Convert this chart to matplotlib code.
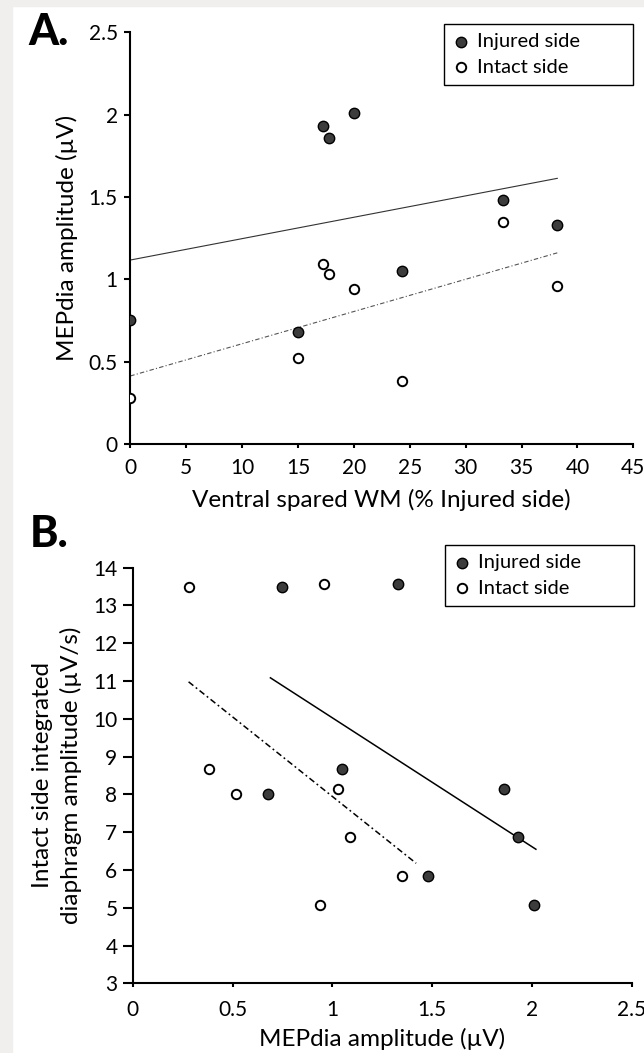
import numpy as np
import matplotlib
matplotlib.use("Agg")
import matplotlib.pyplot as plt
from matplotlib.patches import Rectangle

# Data (one entry per animal)

wm_spared = [0, 15, 17.2, 17.8, 20, 24.3, 33.3, 38.2]
mep_injured = [0.75, 0.68, 1.93, 1.86, 2.01, 1.05, 1.48, 1.33]
mep_intact = [0.28, 0.52, 1.09, 1.03, 0.94, 0.38, 1.35, 0.96]
dia_amp = [13.5, 8.0, 6.87, 8.15, 5.07, 8.67, 5.85, 13.57]

# x-extent of the drawn trend lines
range_a = [0, 38.2]
range_b_injured = [0.69, 2.02]
range_b_intact = [0.28, 1.42]

a_yticks = [0, 0.5, 1, 1.5, 2, 2.5]
a_yticklabels = ["0", "0.5", "1", "1.5", "2", "2.5"]
a_xticks = [0, 5, 10, 15, 20, 25, 30, 35, 40, 45]
b_yticks = list(range(3, 15))
b_xticks = [0, 0.5, 1, 1.5, 2, 2.5]
b_xticklabels = ["0", "0.5", "1", "1.5", "2", "2.5"]

plt.rcParams["font.family"] = ["Lato", "DejaVu Sans"]

W, H = 644, 1053
fig = plt.figure(figsize=(W / 100, H / 100), dpi=100)

# light grey frame on the top and left edge of the scan
fig.patches.append(Rectangle((0, 0), 12 / W, 1, transform=fig.transFigure, color="#f0efee", zorder=0))
fig.patches.append(Rectangle((0, 1 - 6 / H), 1, 6 / H, transform=fig.transFigure, color="#f0efee", zorder=0))


def px_axes(x0, x1, ytop, ybot):
    return fig.add_axes([x0 / W, 1 - ybot / H, (x1 - x0) / W, (ybot - ytop) / H])


def style_axes(ax):
    for s in ["top", "right"]:
        ax.spines[s].set_visible(False)
    for s in ["left", "bottom"]:
        ax.spines[s].set_linewidth(1.5)
    ax.patch.set_alpha(0)


def scatter_pair(ax, x1, y1, x2, y2):
    ax.scatter(x1, y1, s=56, facecolor="#3c3c3c", edgecolor="black", linewidth=1.0, zorder=3, label="Injured side")
    ax.scatter(x2, y2, s=46, facecolor="white", edgecolor="black", linewidth=1.4, zorder=3, label="Intact side")


def trend(ax, x, y, xr, **kw):
    k, b = np.polyfit(x, y, 1)
    xr = np.array(xr)
    ax.plot(xr, k * xr + b, **kw)


def add_legend(ax, x0, x1, ytop, ybot):
    leg = ax.legend(loc="upper left", bbox_to_anchor=(x0 / W, 1 - ybot / H, (x1 - x0) / W, (ybot - ytop) / H),
                    bbox_transform=fig.transFigure, mode="expand", fontsize=14.5, frameon=True, fancybox=False,
                    edgecolor="black", framealpha=1, borderpad=0.45, labelspacing=0.42, handlelength=0.8,
                    handletextpad=0.4, borderaxespad=0, scatterpoints=1)
    leg.get_frame().set_linewidth(1.0)


# Panel A

ax1 = px_axes(130.3, 633.3, 32.3, 444)
style_axes(ax1)
scatter_pair(ax1, wm_spared, mep_injured, wm_spared, mep_intact)
trend(ax1, wm_spared, mep_injured, range_a, color="#333333", lw=0.8)
trend(ax1, wm_spared, mep_intact, range_a, color="#555555", lw=0.8, linestyle=(0, (4, 2, 1, 2)))
ax1.set_xlim(0, 45)
ax1.set_ylim(0, 2.5)
ax1.set_xticks(a_xticks)
ax1.set_yticks(a_yticks)
ax1.set_yticklabels(a_yticklabels)
ax1.tick_params(axis="both", labelsize=15, direction="out", width=1.5, color="black")
ax1.tick_params(axis="x", length=3, pad=7)
ax1.tick_params(axis="y", length=4, pad=5)
ax1.set_xlabel("Ventral spared WM (% Injured side)", fontsize=17.5, labelpad=8)
ax1.set_ylabel("MEPdia amplitude (µV)", fontsize=17.5, labelpad=8)
add_legend(ax1, 444, 633, 24, 82)

# Panel B

ax2 = px_axes(132.7, 631.7, 567.7, 983.3)
style_axes(ax2)
scatter_pair(ax2, mep_injured, dia_amp, mep_intact, dia_amp)
trend(ax2, mep_injured, dia_amp, range_b_injured, color="black", lw=1.1)
trend(ax2, mep_intact, dia_amp, range_b_intact, color="black", lw=1.1, linestyle=(0, (4, 2, 1.2, 2)))
ax2.set_xlim(0, 2.5)
ax2.set_ylim(3, 14)
ax2.set_xticks(b_xticks)
ax2.set_xticklabels(b_xticklabels)
ax2.set_yticks(b_yticks)
ax2.tick_params(axis="both", labelsize=15, direction="out", width=1.5, color="black")
ax2.tick_params(axis="x", length=3, pad=9)
ax2.tick_params(axis="y", length=7, pad=4)
ax2.set_xlabel("MEPdia amplitude (µV)", fontsize=17.5, labelpad=6)
ax2.set_ylabel("Intact side integrated\ndiaphragm amplitude (µV/s)", fontsize=17.5, labelpad=8, linespacing=1.4)
add_legend(ax2, 445, 634, 545, 601)

# Panel letters

fig.text(28 / W, 1 - 45 / H, "A.", fontsize=31, fontweight="black", va="baseline", ha="left")
fig.text(30 / W, 1 - 547 / H, "B.", fontsize=31, fontweight="black", va="baseline", ha="left")

fig.savefig("out.png", dpi=100)
